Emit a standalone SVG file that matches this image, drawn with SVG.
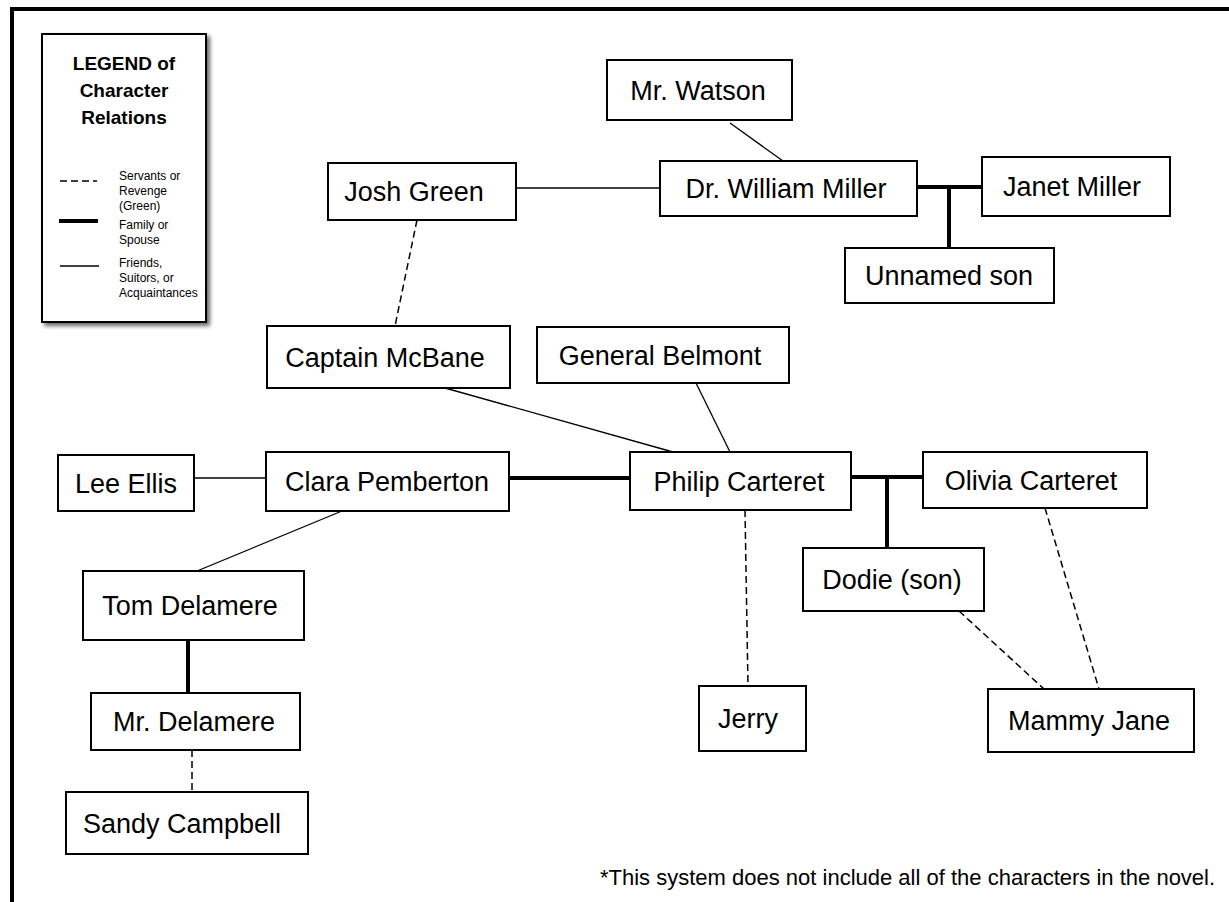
<svg xmlns="http://www.w3.org/2000/svg" width="1229" height="902" viewBox="0 0 1229 902">
  <defs>
    <filter id="shadow" x="-10%" y="-10%" width="130%" height="130%">
      <feGaussianBlur in="SourceAlpha" stdDeviation="2"/>
      <feOffset dx="3" dy="3" result="b"/>
      <feComponentTransfer><feFuncA type="linear" slope="0.6"/></feComponentTransfer>
      <feMerge><feMergeNode/><feMergeNode in="SourceGraphic"/></feMerge>
    </filter>
  </defs>
  <style>
    .box { fill: #ffffff; stroke: #000000; stroke-width: 2; }
    .lbl { font-family: "Liberation Sans", Arial, sans-serif; font-size: 27px; fill: #000000; text-anchor: middle; }
    .thin { stroke: #000000; stroke-width: 1.3; fill: none; }
    .thick { stroke: #000000; stroke-width: 4; fill: none; }
    .dash { stroke: #000000; stroke-width: 1.5; fill: none; stroke-dasharray: 7 4; }
    .ltitle { font-family: "Liberation Sans", Arial, sans-serif; font-size: 19px; font-weight: bold; fill: #000000; text-anchor: middle; }
    .lsmall { font-family: "Liberation Sans", Arial, sans-serif; font-size: 12px; fill: #000000; }
    .note { font-family: "Liberation Sans", Arial, sans-serif; font-size: 22px; fill: #000000; }
  </style>
  <rect x="0" y="0" width="1229" height="902" fill="#ffffff"/>
  <!-- page border -->
  <line x1="10" y1="9" x2="1229" y2="9" stroke="#000" stroke-width="4"/>
  <line x1="12" y1="7" x2="12" y2="902" stroke="#000" stroke-width="4"/>

  <!-- legend -->
  <g id="legend">
    <rect x="42" y="34" width="164" height="288" class="box" filter="url(#shadow)"/>
    <text class="ltitle" x="124" y="70">LEGEND of</text>
    <text class="ltitle" x="124" y="97">Character</text>
    <text class="ltitle" x="124" y="124">Relations</text>
    <line x1="60" y1="181" x2="97" y2="181" class="dash"/>
    <text class="lsmall" x="119" y="180">Servants or</text>
    <text class="lsmall" x="119" y="195">Revenge</text>
    <text class="lsmall" x="119" y="210">(Green)</text>
    <line x1="59" y1="221" x2="98" y2="221" class="thick"/>
    <text class="lsmall" x="119" y="229">Family or</text>
    <text class="lsmall" x="119" y="244">Spouse</text>
    <line x1="60" y1="266" x2="99" y2="266" class="thin"/>
    <text class="lsmall" x="119" y="267">Friends,</text>
    <text class="lsmall" x="119" y="282">Suitors, or</text>
    <text class="lsmall" x="119" y="297">Acquaintances</text>
  </g>

  <!-- connectors -->
  <g id="connectors">
    <line class="thin" x1="730" y1="123" x2="783" y2="161"/>
    <line class="thin" x1="516" y1="188" x2="660" y2="188"/>
    <line class="thick" x1="917" y1="187" x2="982" y2="187"/>
    <line class="thick" x1="949" y1="187" x2="949" y2="249"/>
    <line class="dash" x1="417" y1="220" x2="395" y2="326"/>
    <line class="thin" x1="445" y1="388" x2="673" y2="452"/>
    <line class="thin" x1="696" y1="383" x2="730" y2="452"/>
    <line class="thin" x1="194" y1="478" x2="266" y2="478"/>
    <line class="thick" x1="509" y1="478" x2="630" y2="478"/>
    <line class="thin" x1="342" y1="511" x2="197" y2="571"/>
    <line class="thick" x1="851" y1="477" x2="923" y2="477"/>
    <line class="thick" x1="887" y1="477" x2="887" y2="551"/>
    <line class="dash" x1="745" y1="510" x2="748" y2="686"/>
    <line class="dash" x1="959" y1="611" x2="1044" y2="689"/>
    <line class="dash" x1="1045" y1="508" x2="1099" y2="689"/>
    <line class="thick" x1="188" y1="640" x2="188" y2="693"/>
    <line class="dash" x1="192" y1="750" x2="192" y2="792"/>
  </g>

  <g id="mr-watson"><rect class="box" x="607" y="60" width="185" height="60"/><text class="lbl" x="698" y="100">Mr. Watson</text></g>
  <g id="dr-william-miller"><rect class="box" x="660" y="161" width="257" height="55"/><text class="lbl" x="786" y="198">Dr. William Miller</text></g>
  <g id="janet-miller"><rect class="box" x="982" y="157" width="188" height="59"/><text class="lbl" x="1072" y="196">Janet Miller</text></g>
  <g id="unnamed-son"><rect class="box" x="845" y="248" width="209" height="55"/><text class="lbl" x="949" y="285">Unnamed son</text></g>
  <g id="josh-green"><rect class="box" x="328" y="163" width="188" height="57"/><text class="lbl" x="414" y="201">Josh Green</text></g>
  <g id="captain-mcbane"><rect class="box" x="267" y="326" width="243" height="62"/><text class="lbl" x="385" y="367">Captain McBane</text></g>
  <g id="general-belmont"><rect class="box" x="537" y="327" width="252" height="56"/><text class="lbl" x="660" y="365">General Belmont</text></g>
  <g id="lee-ellis"><rect class="box" x="58" y="455" width="136" height="56"/><text class="lbl" x="126" y="493">Lee Ellis</text></g>
  <g id="clara-pemberton"><rect class="box" x="266" y="452" width="243" height="59"/><text class="lbl" x="387" y="491">Clara Pemberton</text></g>
  <g id="philip-carteret"><rect class="box" x="630" y="452" width="221" height="58"/><text class="lbl" x="739" y="491">Philip Carteret</text></g>
  <g id="olivia-carteret"><rect class="box" x="923" y="452" width="224" height="56"/><text class="lbl" x="1031" y="490">Olivia Carteret</text></g>
  <g id="dodie"><rect class="box" x="803" y="548" width="181" height="63"/><text class="lbl" x="892" y="589">Dodie (son)</text></g>
  <g id="tom-delamere"><rect class="box" x="83" y="571" width="221" height="69"/><text class="lbl" x="190" y="615">Tom Delamere</text></g>
  <g id="mr-delamere"><rect class="box" x="91" y="693" width="209" height="57"/><text class="lbl" x="194" y="731">Mr. Delamere</text></g>
  <g id="sandy-campbell"><rect class="box" x="66" y="792" width="242" height="62"/><text class="lbl" x="182" y="833">Sandy Campbell</text></g>
  <g id="jerry"><rect class="box" x="699" y="686" width="107" height="65"/><text class="lbl" x="748" y="728">Jerry</text></g>
  <g id="mammy-jane"><rect class="box" x="988" y="689" width="206" height="63"/><text class="lbl" x="1089" y="730">Mammy Jane</text></g>

  <text class="note" x="600" y="885">*This system does not include all of the characters in the novel.</text>
</svg>
